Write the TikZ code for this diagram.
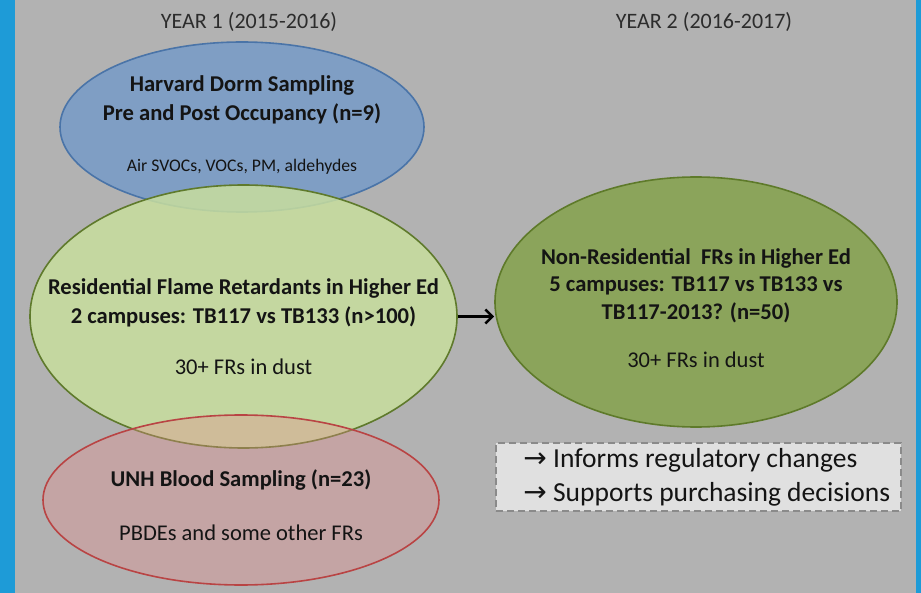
\documentclass[tikz,border=0pt]{standalone}
\usepackage{fontspec}
\setmainfont{Carlito}
\newfontfamily\arrowfont{DejaVu Sans}
\usetikzlibrary{arrows.meta,positioning,shapes.geometric}

\definecolor{slidegray}{HTML}{B2B2B2}
\definecolor{edgeblue}{HTML}{1E9BD7}
\definecolor{dormfill}{HTML}{7F9EC4}
\definecolor{dormline}{HTML}{4A74A8}
\definecolor{residfill}{HTML}{C8DE9E}
\definecolor{residline}{HTML}{5F7A2C}
\definecolor{bloodfill}{HTML}{E68C8C}
\definecolor{bloodline}{HTML}{B94444}
\definecolor{nonresfill}{HTML}{8BA45B}
\definecolor{nonresline}{HTML}{5E7A2A}
\definecolor{notefill}{HTML}{E0E0E0}
\definecolor{noteline}{HTML}{8A8A8A}
\definecolor{inktext}{HTML}{141414}

\begin{document}
\begin{tikzpicture}[
  x=1pt, y=-1pt,
  >={Straight Barb[length=7pt,width=14pt]},
  study/.style={ellipse, draw, line width=1.6pt, inner sep=0pt},
  title/.style={align=center, text=inktext, inner sep=0pt,
    font=\fontsize{22.6}{29}\selectfont\bfseries},
  detail/.style={align=center, text=inktext, inner sep=0pt,
    font=\fontsize{22.5}{27}\selectfont},
  yearlabel/.style={font=\fontsize{22}{26}\selectfont, text=inktext!90},
  notebox/.style={draw=noteline, dash pattern=on 7pt off 4pt,
    line width=1.6pt, fill=notefill, minimum width=405pt,
    minimum height=68pt},
  notetext/.style={align=left, text=inktext, inner sep=0pt,
    font=\fontsize{27.5}{34}\selectfont}
]
\useasboundingbox (0,0) rectangle (921,593);
\fill[slidegray] (0,0) rectangle (921,593);
\fill[edgeblue] (0,0) rectangle (15,593);
\fill[edgeblue] (916,0) rectangle (921,593);

% column headings
\node[yearlabel] (year1) at (249,22) {YEAR 1 (2015-2016)};
\node[yearlabel] (year2) at (704,22) {YEAR 2 (2016-2017)};

% year 1 studies
\node[study, fill=dormfill, draw=dormline, minimum width=364pt,
  minimum height=170pt] (dorm) at (242,127) {};
\node[title, yshift=27.5pt] (dormtitle) at (dorm.center)
  {Harvard Dorm Sampling\\Pre and Post Occupancy (n=9)};
\node[detail, font=\fontsize{17.7}{21}\selectfont, yshift=-40pt]
  (dormdetail) at (dorm.center) {Air SVOCs, VOCs, PM, aldehydes};

\node[study, fill=residfill, fill opacity=0.85, draw=residline,
  minimum width=427pt, minimum height=263pt] (resid) at (243.5,316.5) {};
\node[title, yshift=14pt] (residtitle) at (resid.center)
  {Residential Flame Retardants in Higher Ed\\
   2 campuses: TB117 vs TB133 (n>100)};
\node[detail, yshift=-50.5pt] (residdetail) at (resid.center)
  {30+ FRs in dust};

\node[study, fill=bloodfill, fill opacity=0.35, draw=bloodline,
  minimum width=396pt, minimum height=170pt] (blood) at (241,500) {};
\node[title, yshift=20pt] (bloodtitle) at (blood.center)
  {UNH Blood Sampling (n=23)};
\node[detail, yshift=-33pt] (blooddetail) at (blood.center)
  {PBDEs and some other FRs};

% year 2 study
\node[study, fill=nonresfill, draw=nonresline, minimum width=402pt,
  minimum height=250pt] (nonres) at (696,302) {};
\node[title, font=\fontsize{22.6}{27.5}\selectfont\bfseries, yshift=16.5pt]
  (nonrestitle) at (nonres.center)
  {Non-Residential\ \ FRs in Higher Ed\\
   5 campuses: TB117 vs TB133 vs\\TB117-2013? (n=50)};
\node[detail, yshift=-58pt] (nonresdetail) at (nonres.center)
  {30+ FRs in dust};

% outcomes
\node[notebox] (impact) at (698.5,477) {};
\node[notetext, anchor=west, xshift=28pt] (impacttext) at (impact.west)
  {{\arrowfont\fontsize{28}{34}\selectfont →} Informs regulatory changes\\
   {\arrowfont\fontsize{28}{34}\selectfont →} Supports purchasing decisions};

\draw[->, line width=2.6pt] (resid.east) -- (resid.east -| nonres.west);
\end{tikzpicture}
\end{document}
